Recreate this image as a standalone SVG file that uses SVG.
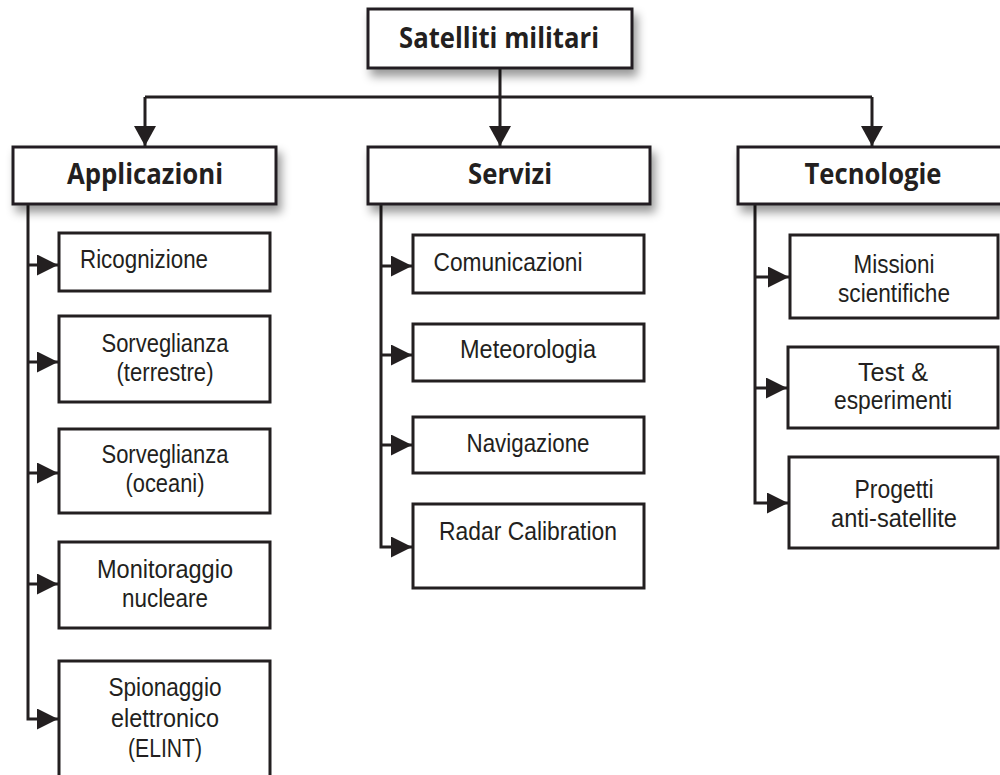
<svg xmlns="http://www.w3.org/2000/svg" width="1000" height="775" viewBox="0 0 1000 775">
<defs>
<filter id="sh" x="-10%" y="-20%" width="130%" height="160%">
<feDropShadow dx="4" dy="7" stdDeviation="5" flood-color="#000" flood-opacity="0.4"/>
</filter>
<marker id="ah" viewBox="0 0 21 21" refX="21" refY="10.5" markerWidth="21" markerHeight="21" markerUnits="userSpaceOnUse" orient="auto">
<path d="M0,0 L21,10.5 L0,21 Z" fill="#231f20"/>
</marker>
<marker id="ad" viewBox="0 0 20 22" refX="20" refY="11" markerWidth="20" markerHeight="22" markerUnits="userSpaceOnUse" orient="auto">
<path d="M0,0 L20,11 L0,22 Z" fill="#231f20"/>
</marker>
</defs>
<style>
.box{fill:#fff;stroke:#231f20;stroke-width:3}
.hbox{fill:#fff;stroke:#231f20;stroke-width:3;filter:url(#sh)}
.ln{fill:none;stroke:#231f20;stroke-width:3}
.t{font-family:"Liberation Sans",Arial,sans-serif;font-size:25px;fill:#231f20;text-anchor:middle}
.h{font-family:"Open Sans","Noto Sans",sans-serif;font-size:28px;font-weight:bold;fill:#231f20;text-anchor:middle}
</style>
<rect width="1000" height="775" fill="#fff"/>
<g id="connectors">
<path class="ln" d="M500,69 V97"/>
<path class="ln" d="M145,97 H872"/>
<path class="ln" d="M145,97 V146" marker-end="url(#ad)"/>
<path class="ln" d="M500,97 V146" marker-end="url(#ad)"/>
<path class="ln" d="M872,97 V146" marker-end="url(#ad)"/>
<path class="ln" d="M28,205 V719 H58" marker-end="url(#ah)"/>
<path class="ln" d="M28,265 H58" marker-end="url(#ah)"/>
<path class="ln" d="M28,362 H58" marker-end="url(#ah)"/>
<path class="ln" d="M28,473 H58" marker-end="url(#ah)"/>
<path class="ln" d="M28,584 H58" marker-end="url(#ah)"/>
<path class="ln" d="M381,205 V547 H412" marker-end="url(#ah)"/>
<path class="ln" d="M381,266 H412" marker-end="url(#ah)"/>
<path class="ln" d="M381,355 H412" marker-end="url(#ah)"/>
<path class="ln" d="M381,445 H412" marker-end="url(#ah)"/>
<path class="ln" d="M755,205 V503 H788" marker-end="url(#ah)"/>
<path class="ln" d="M755,277 H789" marker-end="url(#ah)"/>
<path class="ln" d="M755,388 H787" marker-end="url(#ah)"/>
</g>
<g id="root">
<rect class="hbox" x="368" y="9" width="264" height="59"/>
<text class="h" x="499" y="48" textLength="200" lengthAdjust="spacingAndGlyphs">Satelliti militari</text>
</g>
<g id="applicazioni">
<rect class="hbox" x="13" y="147" width="263" height="57"/>
<text class="h" x="145" y="184" textLength="156" lengthAdjust="spacingAndGlyphs">Applicazioni</text>
</g>
<g id="servizi">
<rect class="hbox" x="368" y="147" width="282" height="57"/>
<text class="h" x="510" y="184" textLength="84" lengthAdjust="spacingAndGlyphs">Servizi</text>
</g>
<g id="tecnologie">
<rect class="hbox" x="738" y="147" width="270" height="57"/>
<text class="h" x="873" y="184" textLength="137" lengthAdjust="spacingAndGlyphs">Tecnologie</text>
</g>
<g id="ricognizione">
<rect class="box" x="59" y="233" width="211" height="58"/>
<text class="t" x="144" y="268" textLength="128" lengthAdjust="spacingAndGlyphs">Ricognizione</text>
</g>
<g id="sorveglianza-terrestre">
<rect class="box" x="59" y="316" width="211" height="86"/>
<text class="t" x="165" y="352" textLength="127" lengthAdjust="spacingAndGlyphs">Sorveglianza</text>
<text class="t" x="165" y="381" textLength="97" lengthAdjust="spacingAndGlyphs">(terrestre)</text>
</g>
<g id="sorveglianza-oceani">
<rect class="box" x="59" y="429" width="211" height="84"/>
<text class="t" x="165" y="463" textLength="127" lengthAdjust="spacingAndGlyphs">Sorveglianza</text>
<text class="t" x="165" y="492" textLength="79" lengthAdjust="spacingAndGlyphs">(oceani)</text>
</g>
<g id="monitoraggio">
<rect class="box" x="59" y="542" width="211" height="86"/>
<text class="t" x="165" y="578" textLength="136" lengthAdjust="spacingAndGlyphs">Monitoraggio</text>
<text class="t" x="165" y="607" textLength="86" lengthAdjust="spacingAndGlyphs">nucleare</text>
</g>
<g id="spionaggio">
<rect class="box" x="59" y="661" width="211" height="130"/>
<text class="t" x="165" y="696" textLength="113" lengthAdjust="spacingAndGlyphs">Spionaggio</text>
<text class="t" x="165" y="727" textLength="108" lengthAdjust="spacingAndGlyphs">elettronico</text>
<text class="t" x="165" y="757" textLength="74" lengthAdjust="spacingAndGlyphs">(ELINT)</text>
</g>
<g id="comunicazioni">
<rect class="box" x="413" y="235" width="231" height="58"/>
<text class="t" x="508" y="271" textLength="149" lengthAdjust="spacingAndGlyphs">Comunicazioni</text>
</g>
<g id="meteorologia">
<rect class="box" x="413" y="324" width="231" height="57"/>
<text class="t" x="528" y="358" textLength="136" lengthAdjust="spacingAndGlyphs">Meteorologia</text>
</g>
<g id="navigazione">
<rect class="box" x="413" y="417" width="231" height="56"/>
<text class="t" x="528" y="452" textLength="123" lengthAdjust="spacingAndGlyphs">Navigazione</text>
</g>
<g id="radar">
<rect class="box" x="413" y="504" width="231" height="84"/>
<text class="t" x="528" y="540" textLength="178" lengthAdjust="spacingAndGlyphs">Radar Calibration</text>
</g>
<g id="missioni">
<rect class="box" x="790" y="235" width="208" height="83"/>
<text class="t" x="894" y="273" textLength="81" lengthAdjust="spacingAndGlyphs">Missioni</text>
<text class="t" x="894" y="302" textLength="112" lengthAdjust="spacingAndGlyphs">scientifiche</text>
</g>
<g id="test">
<rect class="box" x="788" y="347" width="210" height="81"/>
<text class="t" x="893" y="381" textLength="70" lengthAdjust="spacingAndGlyphs">Test &amp;</text>
<text class="t" x="893" y="409" textLength="118" lengthAdjust="spacingAndGlyphs">esperimenti</text>
</g>
<g id="progetti">
<rect class="box" x="789" y="457" width="209" height="91"/>
<text class="t" x="894" y="498" textLength="79" lengthAdjust="spacingAndGlyphs">Progetti</text>
<text class="t" x="894" y="527" textLength="126" lengthAdjust="spacingAndGlyphs">anti-satellite</text>
</g>
</svg>
